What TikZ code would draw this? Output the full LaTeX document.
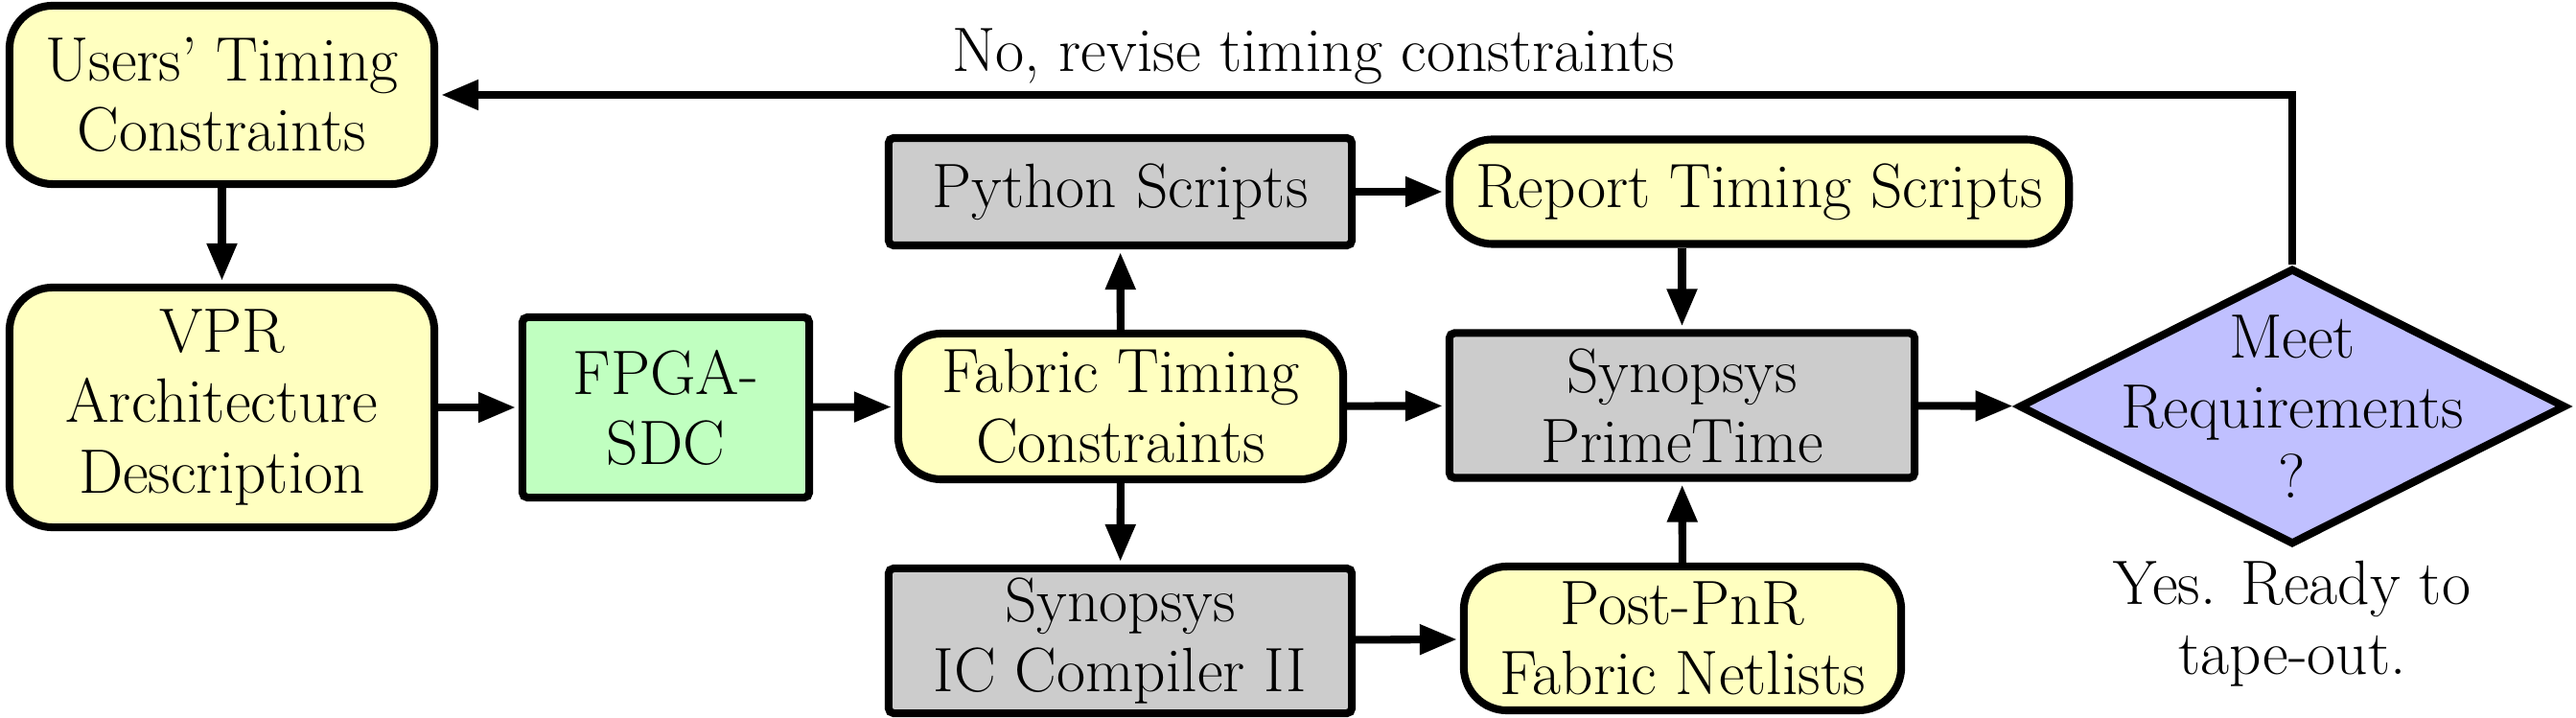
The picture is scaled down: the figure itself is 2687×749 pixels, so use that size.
\documentclass[tikz,border=0pt]{standalone}
\usepackage{tikz}
\usetikzlibrary{shapes.geometric, arrows.meta}
\usetikzlibrary{positioning}
\usepackage{xcolor}
\definecolor{fileyellow}{RGB}{255,255,192}
\definecolor{toolgray}{RGB}{204,204,204}
\definecolor{sdcgreen}{RGB}{192,255,192}
\definecolor{checkblue}{RGB}{192,192,255}
\tikzstyle{arrow} = [line width=2.3pt,-{Triangle[length=0.39cm,width=0.3cm]},shorten >=0.03cm]
\tikzstyle{filebox} = [draw,line width=2.3pt,rounded corners=0.45cm,fill=fileyellow,align=center,inner sep=0pt]
\tikzstyle{toolbox} = [draw,line width=2.3pt,rounded corners=1.5pt,fill=toolgray,align=center,inner sep=0pt]
\tikzstyle{decision} = [diamond,draw,line width=2.3pt,fill=checkblue,inner sep=0pt,minimum width=5.7cm,minimum height=2.88cm]

\begin{document}
\begin{tikzpicture}[x=0.01cm,y=-0.01cm,font=\rmfamily\fontsize{18.6pt}{20.8pt}\selectfont]
\useasboundingbox (0,0) rectangle (2687,749);

% inputs
\node[filebox,minimum width=4.43cm,minimum height=1.86cm] (users) at (231.5,99) {Users' Timing\\Constraints};
\node[filebox,minimum width=4.43cm,minimum height=2.5cm] (vpr) at (231.5,425) {VPR\\Architecture\\Description};
\node[toolbox,fill=sdcgreen,minimum width=2.99cm,minimum height=1.88cm] (fpgasdc) at (694.5,425) {FPGA-\\SDC};
\node[filebox,minimum width=4.64cm,minimum height=1.52cm] (fabric) at (1169,424) {Fabric Timing\\Constraints};

% tools
\node[toolbox,minimum width=4.83cm,minimum height=1.12cm] (python) at (1168.5,200) {Python Scripts};
\node[toolbox,minimum width=4.83cm,minimum height=1.51cm] (icc) at (1168.5,668.5) {Synopsys\\IC Compiler II};
\node[filebox,minimum width=6.46cm,minimum height=1.09cm] (report) at (1835,200) {Report Timing Scripts};
\node[toolbox,minimum width=4.85cm,minimum height=1.51cm] (primetime) at (1754.5,423) {Synopsys\\PrimeTime};
\node[filebox,minimum width=4.56cm,minimum height=1.5cm] (netlists) at (1755,666) {Post-PnR\\Fabric Netlists};

% check
\node[decision,label={[align=center]center:{Meet\\Requirements\\?}}] (meet) at (2391,424) {};
\node[align=center,inner sep=0pt,below=0.12cm of meet] (ready) {Yes. Ready to\\tape-out.};

\draw[arrow] (users) -- (vpr);
\draw[arrow] (vpr) -- (fpgasdc);
\draw[arrow] (fpgasdc) -- (fabric);
\draw[arrow] (fabric) -- (python);
\draw[arrow] (fabric) -- (icc);
\draw[arrow] (fabric) -- (primetime);
\draw[arrow] (python) -- (report);
\draw[arrow] (report.south -| primetime) -- (primetime);
\draw[arrow] (icc) -- (netlists);
\draw[arrow] (netlists) -- (primetime);
\draw[arrow] (primetime) -- (meet);
\draw[arrow] (meet.north) |- node[pos=0.764,above,inner sep=2pt] (revise) {No, revise timing constraints} (users.east);
\end{tikzpicture}
\end{document}
